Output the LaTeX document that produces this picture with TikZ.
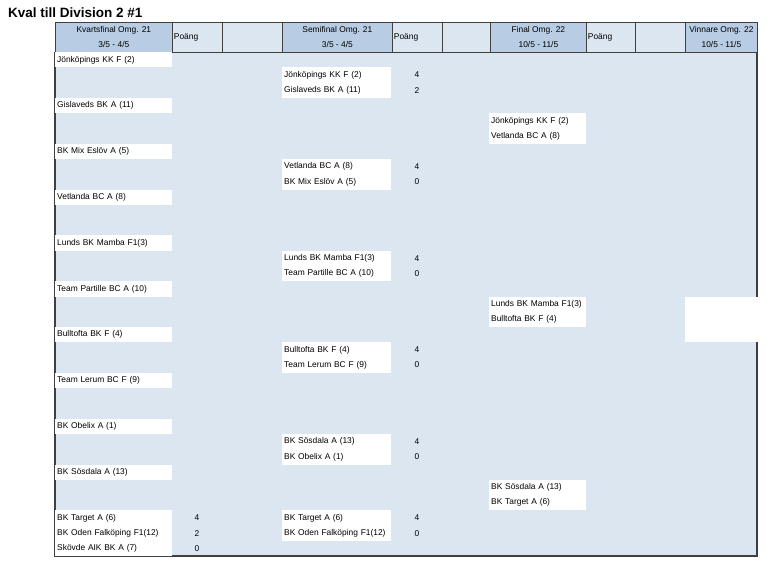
\documentclass[tikz,border=0pt]{standalone}
\usepackage{fontspec}
\setmainfont{Liberation Sans}

\definecolor{headblue}{HTML}{B8CCE4}
\definecolor{bodyblue}{HTML}{DCE6F1}
\definecolor{rulegray}{HTML}{404040}

\tikzset{
  cell/.style={font=\fontsize{8.4}{15}\selectfont, inner sep=0pt},
  team/.style={cell, fill=white, anchor=north west, minimum height=15.27pt,
    inner xsep=2pt, align=left},
  qteam/.style={team, text width=113pt},
  steam/.style={team, text width=105pt},
  fteam/.style={team, text width=93pt},
  score/.style={cell},
  head/.style={cell, draw=rulegray, line width=0.8pt, fill=headblue,
    anchor=north west, minimum height=29.5pt, align=center},
  headlight/.style={head, fill=bodyblue},
}

\begin{document}
\begin{tikzpicture}[x=1pt,y=-1pt]

\newcommand\T{52}
\newcommand\R{15.273}

\useasboundingbox (0,0) rectangle (767,562);

\node[anchor=west, inner sep=0pt, font=\bfseries\fontsize{13.5}{16}\selectfont] (title) at (8,12.5) {Kval till Division 2 \#1};

% body
\fill[bodyblue] (55,\T+0.8) rectangle (757,556);
\draw[rulegray, line width=1.2pt] (55,\T) -- (55,556) -- (757,556) -- (757,\T);

% header row
\node[head, minimum width=117pt] (hq) at (55,22) {Kvartsfinal Omg. 21\\3/5 - 4/5};
\node[headlight, minimum width=50pt, text width=47pt, align=left, inner xsep=1.5pt] (hqp) at (172,22) {Poäng};
\node[headlight, minimum width=60pt] (hqe) at (222,22) {};
\node[head, minimum width=110pt] (hs) at (282,22) {Semifinal Omg. 21\\3/5 - 4/5};
\node[headlight, minimum width=50pt, text width=47pt, align=left, inner xsep=1.5pt] (hsp) at (392,22) {Poäng};
\node[headlight, minimum width=48pt] (hse) at (442,22) {};
\node[head, minimum width=96pt] (hf) at (490,22) {Final Omg. 22\\10/5 - 11/5};
\node[headlight, minimum width=49pt, text width=46pt, align=left, inner xsep=1.5pt] (hfp) at (586,22) {Poäng};
\node[headlight, minimum width=50pt] (hfe) at (635,22) {};
\node[head, minimum width=72pt] (hw) at (685,22) {Vinnare Omg. 22\\10/5 - 11/5};

% kvartsfinal
\node[qteam] (q1) at (55,\T+0*\R) {Jönköpings KK F (2)};
\node[qteam] (q2) at (55,\T+3*\R) {Gislaveds BK A (11)};
\node[qteam] (q3) at (55,\T+6*\R) {BK Mix Eslöv A (5)};
\node[qteam] (q4) at (55,\T+9*\R) {Vetlanda BC A (8)};
\node[qteam] (q5) at (55,\T+12*\R) {Lunds BK Mamba F1(3)};
\node[qteam] (q6) at (55,\T+15*\R) {Team Partille BC A (10)};
\node[qteam] (q7) at (55,\T+18*\R) {Bulltofta BK F (4)};
\node[qteam] (q8) at (55,\T+21*\R) {Team Lerum BC F (9)};
\node[qteam] (q9) at (55,\T+24*\R) {BK Obelix A (1)};
\node[qteam] (q10) at (55,\T+27*\R) {BK Sösdala A (13)};
\node[qteam] (q11) at (55,\T+30*\R) {BK Target A (6)};
\node[qteam] (q12) at (55,\T+31*\R) {BK Oden Falköping F1(12)};
\node[qteam] (q13) at (55,\T+32*\R) {Skövde AIK BK A (7)};

\node[score] (qs11) at (197,\T+30.5*\R) {4};
\node[score] (qs12) at (197,\T+31.5*\R) {2};
\node[score] (qs13) at (197,\T+32.5*\R) {0};

% semifinal
\node[steam] (s1) at (282,\T+1*\R) {Jönköpings KK F (2)};
\node[steam] (s2) at (282,\T+2*\R) {Gislaveds BK A (11)};
\node[steam] (s3) at (282,\T+7*\R) {Vetlanda BC A (8)};
\node[steam] (s4) at (282,\T+8*\R) {BK Mix Eslöv A (5)};
\node[steam] (s5) at (282,\T+13*\R) {Lunds BK Mamba F1(3)};
\node[steam] (s6) at (282,\T+14*\R) {Team Partille BC A (10)};
\node[steam] (s7) at (282,\T+19*\R) {Bulltofta BK F (4)};
\node[steam] (s8) at (282,\T+20*\R) {Team Lerum BC F (9)};
\node[steam] (s9) at (282,\T+25*\R) {BK Sösdala A (13)};
\node[steam] (s10) at (282,\T+26*\R) {BK Obelix A (1)};
\node[steam] (s11) at (282,\T+30*\R) {BK Target A (6)};
\node[steam] (s12) at (282,\T+31*\R) {BK Oden Falköping F1(12)};

\node[score] (ss1) at (417,\T+1.5*\R) {4};
\node[score] (ss2) at (417,\T+2.5*\R) {2};
\node[score] (ss3) at (417,\T+7.5*\R) {4};
\node[score] (ss4) at (417,\T+8.5*\R) {0};
\node[score] (ss5) at (417,\T+13.5*\R) {4};
\node[score] (ss6) at (417,\T+14.5*\R) {0};
\node[score] (ss7) at (417,\T+19.5*\R) {4};
\node[score] (ss8) at (417,\T+20.5*\R) {0};
\node[score] (ss9) at (417,\T+25.5*\R) {4};
\node[score] (ss10) at (417,\T+26.5*\R) {0};
\node[score] (ss11) at (417,\T+30.5*\R) {4};
\node[score] (ss12) at (417,\T+31.5*\R) {0};

% final
\node[fteam] (f1) at (489,\T+4*\R) {Jönköpings KK F (2)};
\node[fteam] (f2) at (489,\T+5*\R) {Vetlanda BC A (8)};
\node[fteam] (f3) at (489,\T+16*\R) {Lunds BK Mamba F1(3)};
\node[fteam] (f4) at (489,\T+17*\R) {Bulltofta BK F (4)};
\node[fteam] (f5) at (489,\T+28*\R) {BK Sösdala A (13)};
\node[fteam] (f6) at (489,\T+29*\R) {BK Target A (6)};

% vinnare
\node[fill=white, anchor=north west, inner sep=0pt, minimum width=75pt, minimum height=3*\R pt] (w1) at (685,\T+16*\R) {};

\end{tikzpicture}
\end{document}
